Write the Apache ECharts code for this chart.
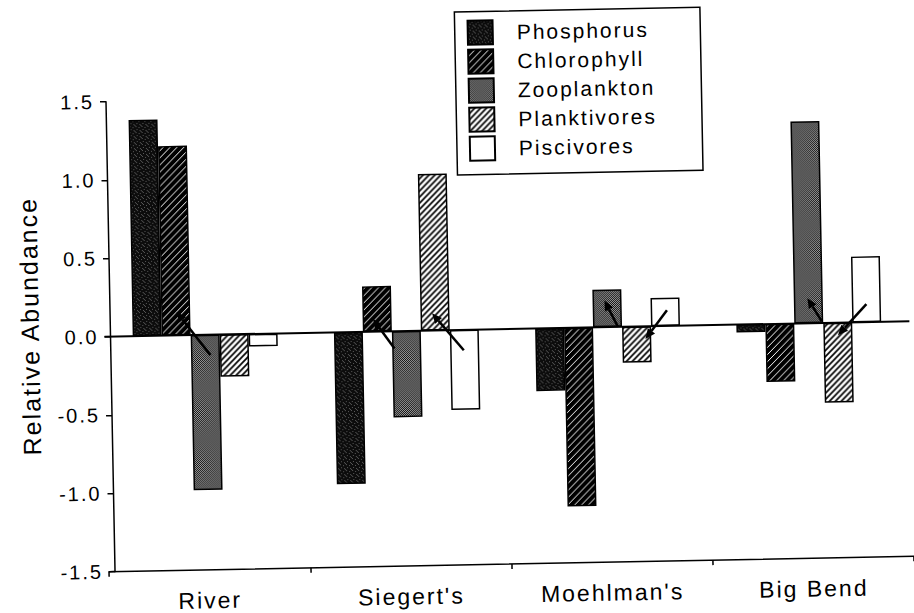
<!DOCTYPE html>
<html>
<head>
<meta charset="utf-8">
<script src="https://cdn.jsdelivr.net/npm/echarts@6/dist/echarts.min.js"></script>
<style>
    html, body { margin: 0; padding: 0; background: #fff; overflow: hidden; }
    #chart {
        width: 914px;
        height: 613px;
        letter-spacing: 2px;
        transform: rotate(-1.1deg);
    }
</style>
</head>
<body>
<div id="chart"></div>
<script>
const categories = ['River', "Siegert's", "Moehlman's", 'Big Bend']
const seriesNames = ['Phosphorus', 'Chlorophyll', 'Zooplankton', 'Planktivores', 'Piscivores']

const phosphorus = [1.38, -0.97, -0.40, -0.05]
const chlorophyll = [1.21, 0.29, -1.14, -0.37]
const zooplankton = [-0.99, -0.55, 0.24, 1.29]
const planktivores = [-0.27, 1.00, -0.23, -0.51]
const piscivores = [-0.08, -0.51, 0.18, 0.42]

const yTicks = [-1.5, -1.0, -0.5, 0.0, 0.5, 1.0, 1.5]

// hand drawn arrows: [category, from offset (bar widths), from value, to offset, to value]
const arrows = [
    [0, 0.17, -0.13, -0.97, 0.15],
    [1, -0.42, -0.11, -1.14, 0.08],
    [1, 1.97, -0.13, 0.9, 0.11],
    [2, 0.36, 0.0, -0.09, 0.17],
    [2, 2.06, 0.1, 1.3, -0.08],
    [3, 0.45, 0.01, -0.03, 0.16],
    [3, 2.0, 0.115, 1.0, -0.08]
]

const font = '"Liberation Sans", Arial, Helvetica, sans-serif'
const groupShare = 0.72

// small canvas tiles used as fill patterns
const makeTile = (size, draw) => {
    const c = document.createElement('canvas')
    c.width = size
    c.height = size
    const ctx = c.getContext('2d')
    draw(ctx, size)
    return c
}

const diagonal = (ctx, s) => {
    ctx.beginPath()
    ctx.moveTo(0, s); ctx.lineTo(s, 0)
    ctx.moveTo(-s / 2, s / 2); ctx.lineTo(s / 2, -s / 2)
    ctx.moveTo(s / 2, s * 1.5); ctx.lineTo(s * 1.5, s / 2)
    ctx.stroke()
}

const stippleDark = makeTile(6, (ctx, s) => {
    ctx.fillStyle = '#0c0c0c'
    ctx.fillRect(0, 0, s, s)
    ctx.fillStyle = '#5a5a5a'
    ;[[1, 0], [4, 1], [2, 3], [5, 4], [0, 5]].forEach(p => ctx.fillRect(p[0], p[1], 1, 1))
})
const hatchDark = makeTile(7, (ctx, s) => {
    ctx.fillStyle = '#000'
    ctx.fillRect(0, 0, s, s)
    ctx.strokeStyle = '#fff'
    ctx.lineWidth = 1.0
    diagonal(ctx, s)
})
const checker = makeTile(2, (ctx, s) => {
    ctx.fillStyle = '#a0a0a0'
    ctx.fillRect(0, 0, s, s)
    ctx.fillStyle = '#111'
    ctx.fillRect(0, 0, 1, 1)
    ctx.fillRect(1, 1, 1, 1)
})
const hatchLight = makeTile(6, (ctx, s) => {
    ctx.fillStyle = '#fff'
    ctx.fillRect(0, 0, s, s)
    ctx.strokeStyle = '#000'
    ctx.lineWidth = 1.7
    diagonal(ctx, s)
})

const fills = [
    { image: stippleDark, repeat: 'repeat' },
    { image: hatchDark, repeat: 'repeat' },
    { image: checker, repeat: 'repeat' },
    { image: hatchLight, repeat: 'repeat' },
    '#ffffff'
]
const values = [phosphorus, chlorophyll, zooplankton, planktivores, piscivores]

const series = seriesNames.map((name, i) => {
    const s = {
        name: name,
        type: 'bar',
        data: values[i],
        barGap: '0%',
        barCategoryGap: Math.round((1 - groupShare) * 100) + '%',
        itemStyle: {
            color: fills[i],
            borderColor: '#000',
            borderWidth: 1.5
        },
        animation: false
    }
    if (i === 0) {
        s.markLine = {
            silent: true,
            symbol: 'none',
            label: { show: false },
            lineStyle: { color: '#000', width: 2, type: 'solid' },
            data: [{ yAxis: 0 }]
        }
    }
    return s
})

series.push({
    type: 'custom',
    silent: true,
    z: 5,
    data: arrows,
    renderItem: (params, api) => {
        const cat = api.value(0)
        const w = api.size([1, 0])[0] * groupShare / 5
        const p0 = api.coord([cat, api.value(2)])
        const p1 = api.coord([cat, api.value(4)])
        const x0 = p0[0] + api.value(1) * w
        const x1 = p1[0] + api.value(3) * w
        const y0 = p0[1]
        const y1 = p1[1]
        const len = Math.hypot(x1 - x0, y1 - y0)
        const ux = (x1 - x0) / len
        const uy = (y1 - y0) / len
        const h = 10
        const bx = x1 - ux * h
        const by = y1 - uy * h
        return {
            type: 'group',
            children: [
                {
                    type: 'line',
                    shape: { x1: x0, y1: y0, x2: bx, y2: by },
                    style: { stroke: '#000', lineWidth: 2.5 }
                },
                {
                    type: 'polygon',
                    shape: { points: [[x1, y1], [bx - uy * 4.5, by + ux * 4.5], [bx + uy * 4.5, by - ux * 4.5]] },
                    style: { fill: '#000' }
                }
            ]
        }
    }
})

const myChart = echarts.init(document.getElementById('chart'), null, { renderer: 'svg' })

const option = {
    animation: false,
    textStyle: { fontFamily: font, color: '#000' },
    grid: { left: 104, right: 5, top: 95, bottom: 48 },
    legend: {
        orient: 'vertical',
        left: 460,
        top: 12,
        icon: 'rect',
        itemWidth: 25,
        itemHeight: 24,
        itemGap: 3,
        padding: [8, 68, 13, 12],
        borderColor: '#000',
        borderWidth: 1.5,
        textStyle: { fontSize: 21, color: '#000', fontFamily: font, padding: [0, 0, 0, 19] },
        data: seriesNames
    },
    xAxis: {
        type: 'category',
        data: categories,
        axisLine: { onZero: false, lineStyle: { color: '#000', width: 1.5 } },
        axisTick: { show: true, length: 5, interval: 0, lineStyle: { color: '#000', width: 1.5 } },
        axisLabel: { fontSize: 23, color: '#000', fontFamily: font, margin: 19, interval: 0 }
    },
    yAxis: {
        type: 'value',
        min: yTicks[0],
        max: yTicks[yTicks.length - 1],
        interval: 0.5,
        offset: -6,
        name: 'Relative Abundance',
        nameLocation: 'middle',
        nameRotate: 90,
        nameGap: 68,
        nameTextStyle: { fontSize: 25, color: '#000', fontFamily: font, padding: [0, 0, 0, 24] },
        axisLine: { show: true, lineStyle: { color: '#000', width: 1.5 } },
        axisTick: { show: true, length: 6, lineStyle: { color: '#000', width: 1.5 } },
        splitLine: { show: false },
        axisLabel: {
            fontSize: 20,
            color: '#000',
            fontFamily: font,
            margin: 12,
            formatter: v => v.toFixed(1)
        }
    },
    series: series
}
myChart.setOption(option)
</script>
</body>
</html>
